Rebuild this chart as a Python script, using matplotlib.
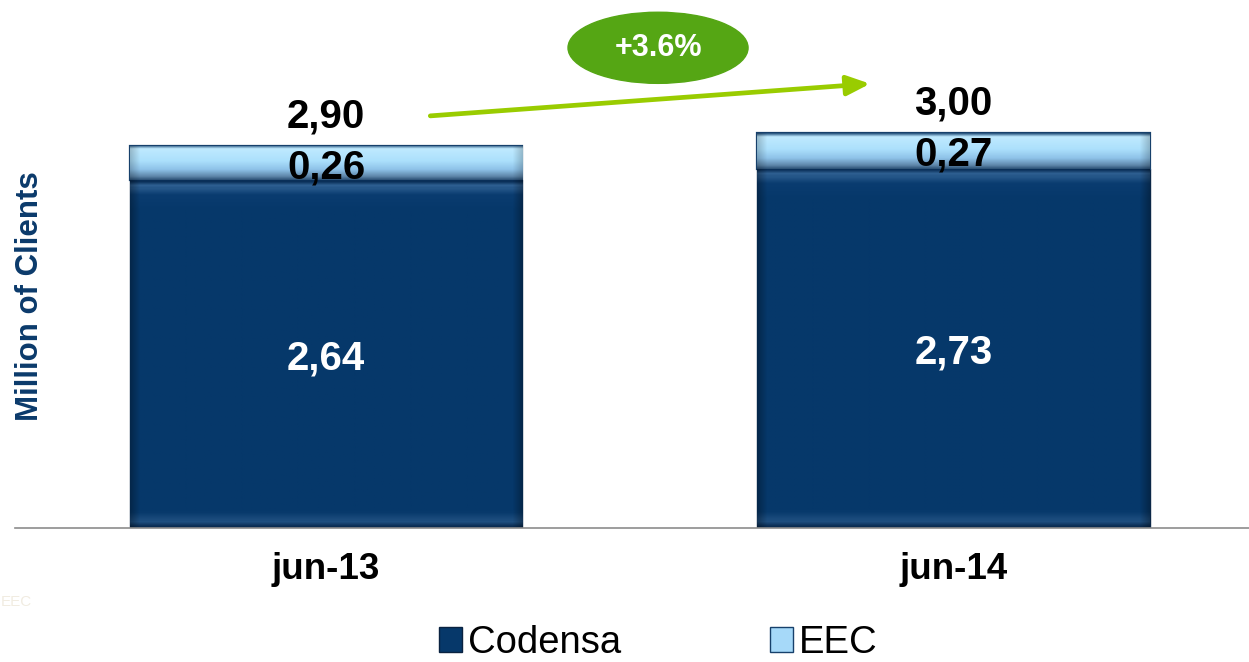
#!/usr/bin/env python3
"""
Clientes Codensa / EEC, jun-13 vs jun-14 (barras apiladas).
"""

import matplotlib
matplotlib.use("Agg")
import matplotlib.pyplot as plt
import numpy as np
from matplotlib.colors import LinearSegmentedColormap
from matplotlib.patches import Ellipse, Patch


CATEGORIES = ["jun-13", "jun-14"]
CODENSA = [2.64, 2.73]
EEC = [0.26, 0.27]
TOTALS = [2.90, 3.00]
GROWTH_LABEL = "+3.6%"

COLORS = {
    "navy": "#06386a",
    "navy_edge": "#0b2747",
    "light": "#a6d9f9",
    "light_edge": "#17406b",
    "green_arrow": "#99cc00",
    "green_oval": "#55a614",
    "axis": "#8c8c8c",
    "label": "#0b3a6b",
}

plt.rcParams["font.family"] = ["Liberation Sans", "DejaVu Sans"]


def fmt(v: float) -> str:
    return f"{v:.2f}".replace(".", ",")


def shade(ax, bar, colors, stops, side=0.7):
    # degradado vertical (arriba -> abajo) + bordes laterales oscuros, recortado a la barra
    cmap = LinearSegmentedColormap.from_list("g", list(zip(stops, colors)))
    rows = cmap(np.linspace(0, 1, 300))[:, :3]
    cols = np.linspace(0, 1, 400)
    edge = np.clip(np.minimum(cols, 1 - cols) / 0.025, 0, 1)
    fac = side + (1 - side) * edge
    img = rows[:, None, :] * fac[None, :, None]
    x0, y0 = bar.get_x(), bar.get_y()
    im = ax.imshow(img, aspect="auto", origin="upper", interpolation="bilinear",
                   extent=(x0, x0 + bar.get_width(), y0, y0 + bar.get_height()), zorder=bar.get_zorder() + 0.1)
    im.set_clip_path(bar)


fig = plt.figure(figsize=(12.49, 6.62), dpi=100)
ax = fig.add_axes([15 / 1249, 134 / 662, 1234 / 1249, 528 / 662])

x = np.arange(len(CATEGORIES))
width = 0.625
bars_c = ax.bar(x, CODENSA, width, color=COLORS["navy"], edgecolor=COLORS["navy_edge"], lw=1.0, zorder=2)
bars_e = ax.bar(x, EEC, width, bottom=CODENSA, color=COLORS["light"], edgecolor=COLORS["light_edge"], lw=1.6, zorder=2)

for b in bars_c:
    shade(ax, b, ["#0a2f58", "#2f6092", "#0a3c70", "#06386a", "#06386a", "#1f4f80", "#0a2c52"],
          [0.0, 0.012, 0.04, 0.08, 0.955, 0.985, 1.0])
for b in bars_e:
    shade(ax, b, ["#1d4a75", "#bfeaff", "#ace0fc", "#8ec2e8", "#5d85a8", "#2a4f74"],
          [0.0, 0.1, 0.45, 0.7, 0.9, 1.0], side=0.8)

for xi, c, e, t in zip(x, CODENSA, EEC, TOTALS):
    ax.text(xi, c / 2 - 0.035, fmt(c), ha="center", va="center", fontsize=29, fontweight="bold", color="white", zorder=5)
    ax.text(xi, c + e / 2 - 0.03, fmt(e), ha="center", va="center", fontsize=29, fontweight="bold", color="black", zorder=5)
    ax.text(xi, t + 0.225, fmt(t), ha="center", va="center", fontsize=29, fontweight="bold", color="black", zorder=5)

# flecha de crecimiento
ax.annotate("", xy=(0.867, 3.374), xytext=(0.166, 3.13),
            arrowprops=dict(arrowstyle="-|>,head_length=1.4,head_width=0.6", color=COLORS["green_arrow"],
                            lw=3.4, shrinkA=0, shrinkB=0), zorder=4)
ax.add_patch(Ellipse((0.529, 3.647), 0.287, 0.54, color=COLORS["green_oval"], clip_on=False, zorder=4))
ax.text(0.529, 3.647, GROWTH_LABEL, ha="center", va="center", fontsize=22, fontweight="bold", color="white", zorder=5)

ax.set_xlim(-0.496, 1.471)
ax.set_ylim(0, 4.01)
ax.set_xticks(x)
ax.set_xticklabels(CATEGORIES, fontsize=26.5, fontweight="bold")
ax.tick_params(axis="x", length=0, pad=17)
ax.set_yticks([])
for s in ["top", "right", "left"]:
    ax.spines[s].set_visible(False)
ax.spines["bottom"].set_color(COLORS["axis"])
ax.spines["bottom"].set_linewidth(1.2)

fig.text(30 / 1249, 1 - 296 / 662, "Million of Clients", rotation=90, ha="center", va="center",
         fontsize=22.5, fontweight="bold", color=COLORS["label"])

fig.text(0.001, 1 - 602 / 662, "EEC", fontsize=11, color="#f1ece1", ha="left", va="center")

handles = [
    Patch(facecolor=COLORS["navy"], edgecolor="#0a2240", label="Codensa"),
    Patch(facecolor=COLORS["light"], edgecolor=COLORS["light_edge"], label="EEC"),
]
fig.legend(handles=handles, loc="center", bbox_to_anchor=(658 / 1249, 1 - 643 / 662), ncol=2, frameon=False,
           fontsize=27.5, handlelength=0.6, handleheight=0.6, handletextpad=0.15, columnspacing=3.9, borderpad=0)

fig.savefig("out.png", dpi=100, facecolor="white")
